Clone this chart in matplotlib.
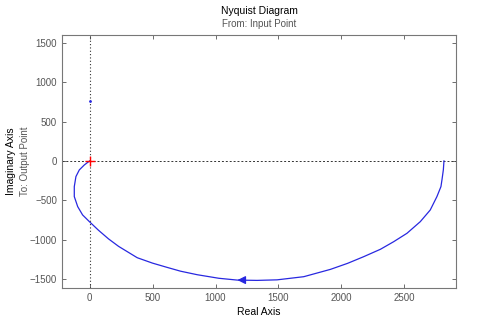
import numpy as np
import matplotlib
matplotlib.use("Agg")
import matplotlib.pyplot as plt

# Nyquist curve (traced from the right end to the origin)
re_part = [2815, 2810, 2800, 2791, 2759, 2706, 2627, 2521, 2415, 2310, 2177,
           2050, 1913, 1701, 1489, 1330, 1172, 1026, 855, 722, 616, 500, 378,
           230, 150, 70, -2, -56, -95, -122, -122, -109, -82, -42, 0]
im_part = [0, -114, -230, -326, -453, -623, -771, -919, -1026, -1122, -1216,
           -1300, -1377, -1470, -1510, -1517, -1513, -1490, -1445, -1400,
           -1352, -1298, -1229, -1085, -990, -880, -771, -686, -580, -453,
           -326, -199, -114, -51, 0]

crit_point = (-1, 0)
stray_point = (0, 760)

xticks = [0, 500, 1000, 1500, 2000, 2500]
yticks = [-1500, -1000, -500, 0, 500, 1000, 1500]

gray = "#555555"
blue = "#2828e0"

plt.rcParams["font.family"] = ["Liberation Sans", "DejaVu Sans"]

fig = plt.figure(figsize=(4.84, 3.23), dpi=100)
ax = fig.add_axes([0.128, 0.108, 0.814, 0.784])

ax.axhline(0, color="#333333", ls=(0, (2, 2)), lw=0.7)
ax.axvline(0, color="#333333", ls=(0, (1, 2)), lw=0.8)

ax.plot(re_part, im_part, color=blue, lw=0.9)
# direction arrow on the lower part of the curve
i = 16
ax.annotate("", xy=(re_part[i] - 20, im_part[i]), xytext=(re_part[i] + 80, im_part[i]),
            arrowprops=dict(arrowstyle="-|>", color=blue, lw=0.9, mutation_scale=12))
ax.plot(*crit_point, marker="+", color="red", ms=7, mew=1.0)
ax.plot(*stray_point, marker=".", color=blue, ms=2)

ax.set_xlim(-220, 2910)
ax.set_ylim(-1615, 1600)
ax.set_xticks(xticks)
ax.set_yticks(yticks)
ax.tick_params(direction="in", top=True, right=True, length=3, width=0.6,
               colors=gray, labelsize=7, labelcolor=gray)
for s in ax.spines.values():
    s.set_color("#777777")
    s.set_linewidth(0.8)

ax.set_xlabel("Real Axis", fontsize=7.5, labelpad=3)
fig.text(0.535, 0.965, "Nyquist Diagram", ha="center", va="center", fontsize=7.5)
fig.text(0.535, 0.925, "From: Input Point", ha="center", va="center", fontsize=7, color=gray)
fig.text(0.022, 0.5, "Imaginary Axis", rotation=90, ha="center", va="center", fontsize=7.5)
fig.text(0.052, 0.5, "To: Output Point", rotation=90, ha="center", va="center", fontsize=7, color=gray)

fig.savefig("out.png", dpi=100)
